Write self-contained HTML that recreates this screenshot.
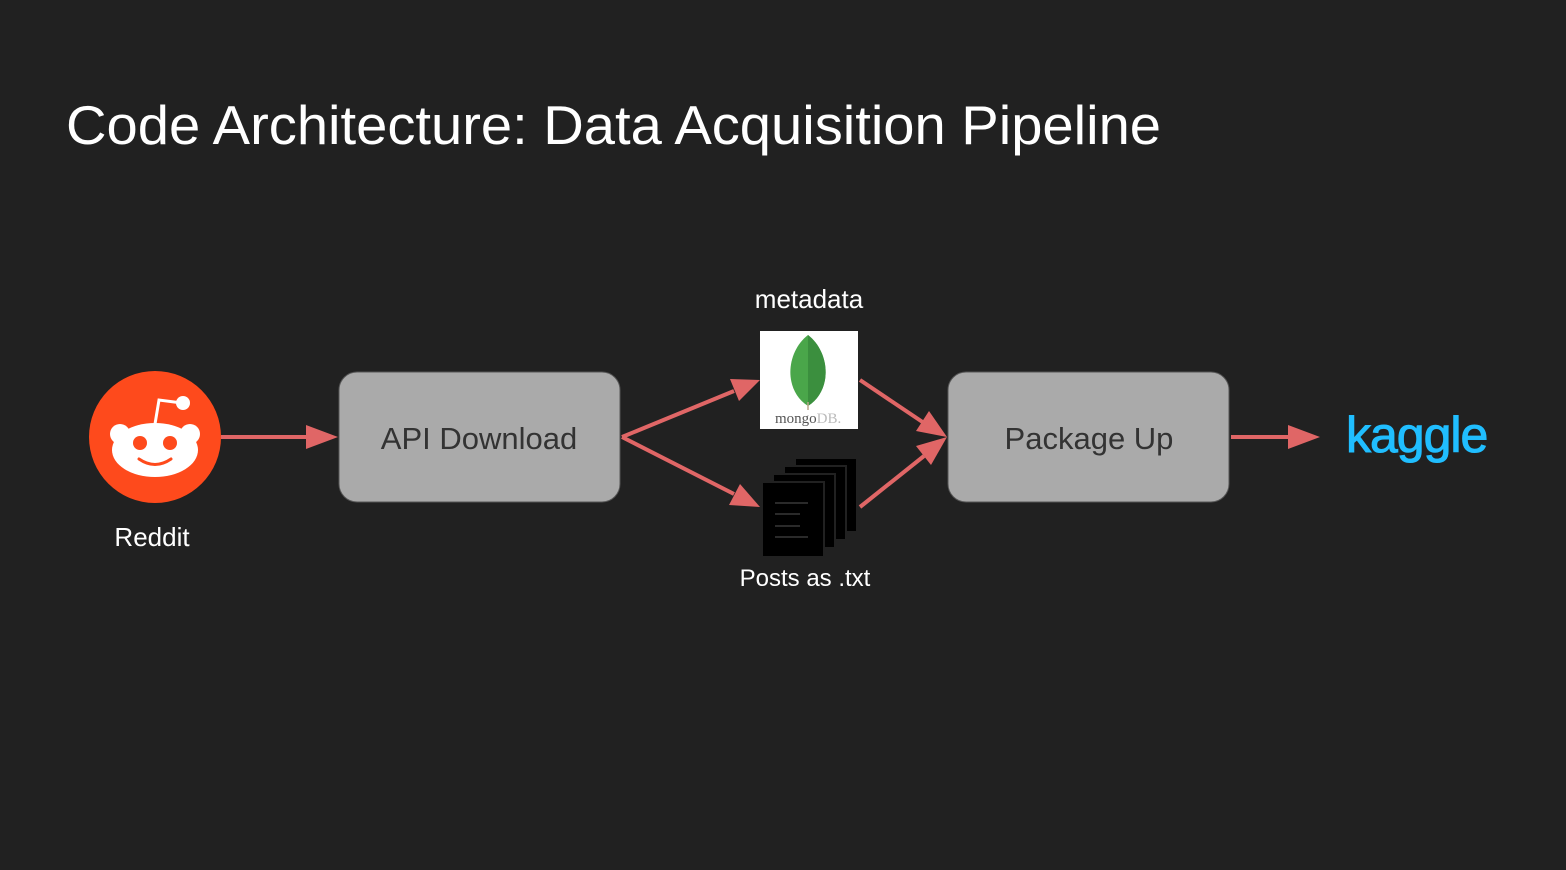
<!DOCTYPE html>
<html><head><meta charset="utf-8"><style>
body{margin:0;background:#212121;width:1566px;height:870px;overflow:hidden}
svg{display:block}
</style></head><body>
<svg width="1566" height="870" xmlns="http://www.w3.org/2000/svg" font-family="Liberation Sans, Arial, sans-serif">
<rect width="1566" height="870" fill="#212121"/>
<text x="66" y="144" font-size="55" fill="#fff" textLength="1095" lengthAdjust="spacingAndGlyphs">Code Architecture: Data Acquisition Pipeline</text>

<!-- reddit -->
<circle cx="155" cy="437" r="66" fill="#fe4a1c"/>
<g fill="#fff">
<ellipse cx="155" cy="450" rx="43" ry="27"/>
<circle cx="120" cy="434" r="10"/>
<circle cx="190" cy="434" r="10"/>
<circle cx="183" cy="403" r="7"/>
</g>
<polyline points="155,424 159,400 182,403" fill="none" stroke="#fff" stroke-width="3"/>
<circle cx="140" cy="443" r="7" fill="#fe4a1c"/>
<circle cx="170" cy="443" r="7" fill="#fe4a1c"/>
<path d="M139,459 Q155,470 171,459" fill="none" stroke="#fe4a1c" stroke-width="3" stroke-linecap="round"/>
<text x="152" y="546" font-size="26" fill="#fff" text-anchor="middle">Reddit</text>

<!-- boxes -->
<rect x="339" y="372" width="281" height="130" rx="18" fill="#aaaaaa" stroke="#555" stroke-width="1"/>
<text x="479" y="449" font-size="31" fill="#333" text-anchor="middle">API Download</text>
<rect x="948" y="372" width="281" height="130" rx="18" fill="#aaaaaa" stroke="#555" stroke-width="1"/>
<text x="1089" y="449" font-size="31" fill="#333" text-anchor="middle">Package Up</text>

<!-- arrows -->
<g stroke="#e06666" stroke-width="4" fill="#e06666">
<line x1="221" y1="437" x2="310" y2="437"/>
<line x1="1231" y1="437" x2="1292" y2="437"/>
<line x1="622" y1="437" x2="734" y2="391"/>
<line x1="622" y1="437" x2="734" y2="494"/>
<line x1="860" y1="380" x2="924" y2="423"/>
<line x1="860" y1="507" x2="924" y2="456"/>
</g>
<g fill="#e06666">
<polygon points="338,437 306,425 306,449"/>
<polygon points="1320,437 1288,425 1288,449"/>
<polygon points="760,380 730,379 739,401"/>
<polygon points="760,507 740,484 729,505"/>
<polygon points="947,437 929,411 916,431"/>
<polygon points="947,437 916,446 931,465"/>
</g>

<!-- mongo -->
<rect x="760" y="331" width="98" height="98" fill="#fff"/>
<path d="M808,335 C786,352 783,390 808,406 C833,390 830,352 808,335Z" fill="#4aa64a"/>
<path d="M808,335 C830,352 833,390 808,406Z" fill="#3b8f3e"/>
<line x1="808" y1="402" x2="808" y2="410" stroke="#b8a88a" stroke-width="1.5"/>
<text x="775" y="423" font-size="15" font-family="Liberation Serif, serif" fill="#555">mongo<tspan fill="#bbb">DB.</tspan></text>
<text x="809" y="308" font-size="26" fill="#fff" text-anchor="middle">metadata</text>

<!-- docs -->
<g fill="#000" stroke="#212121" stroke-width="2">
<rect x="795" y="458" width="62" height="74"/>
<rect x="784" y="466" width="62" height="74"/>
<rect x="773" y="474" width="62" height="74"/>
<rect x="762" y="482" width="62" height="75"/>
</g>
<g stroke="#2a2a2a" stroke-width="2">
<line x1="775" y1="503" x2="808" y2="503"/>
<line x1="775" y1="514" x2="800" y2="514"/>
<line x1="775" y1="526" x2="800" y2="526"/>
<line x1="775" y1="537" x2="808" y2="537"/>
</g>
<text x="805" y="586" font-size="24" fill="#fff" text-anchor="middle">Posts as .txt</text>

<!-- kaggle -->
<text x="1346" y="452" font-size="50" fill="#20beff" letter-spacing="-1" stroke="#20beff" stroke-width="1">kaggle</text>
</svg>
</body></html>
